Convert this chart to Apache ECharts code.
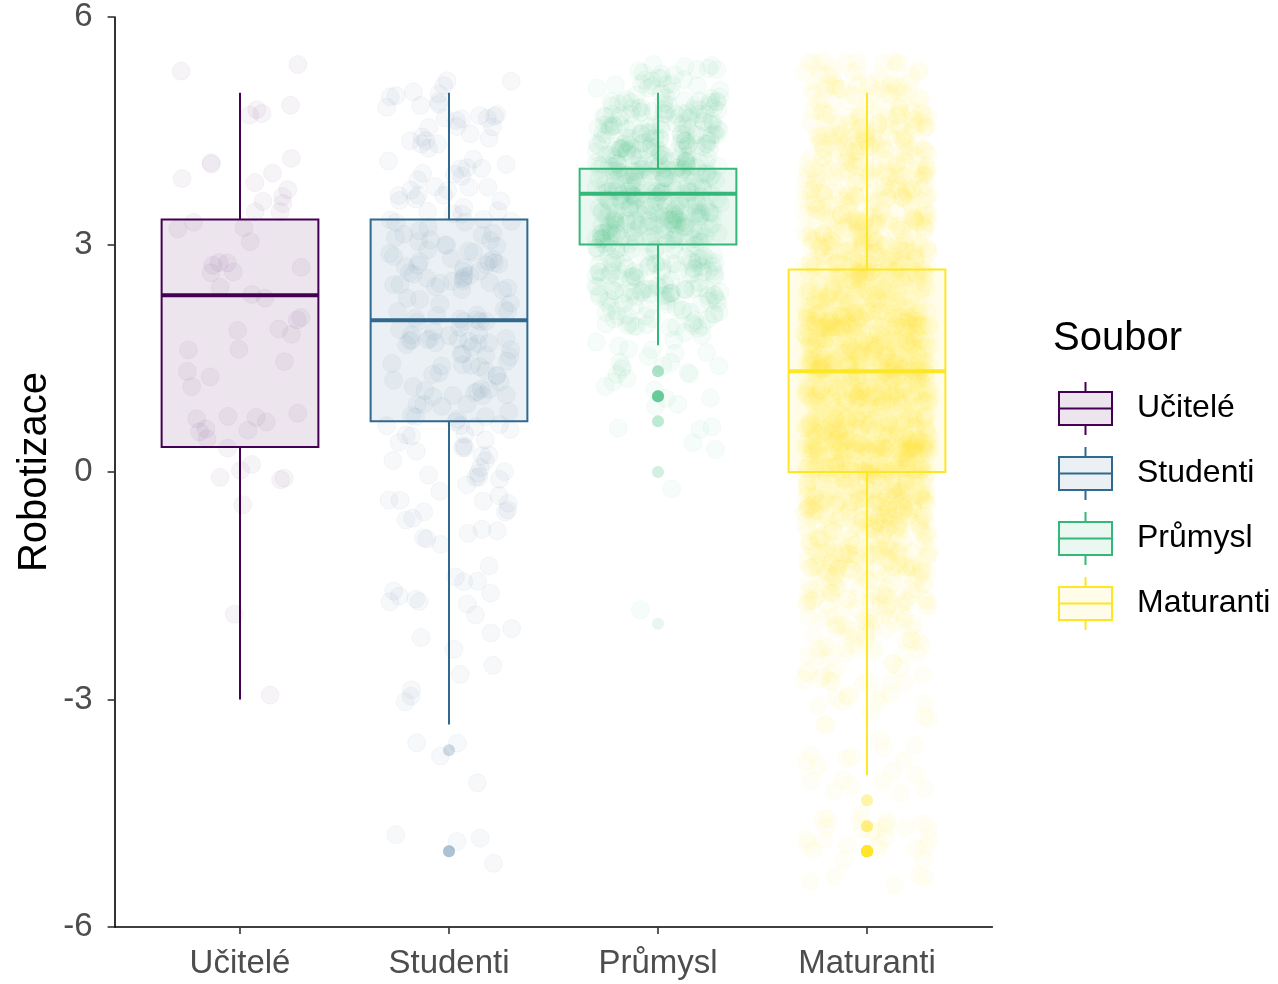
<!DOCTYPE html>
<html>
<head>
<meta charset="utf-8">
<title>Robotizace podle souboru</title>
<script src="https://cdn.jsdelivr.net/npm/echarts@6/dist/echarts.min.js"></script>
<style>
  html, body { margin: 0; padding: 0; background: #ffffff; }
  #chart { width: 1278px; height: 984px; }
</style>
</head>
<body>
<div id="chart"></div>
<script>
// Groups shown on the x axis and in the legend
const categories = ['Učitelé', 'Studenti', 'Průmysl', 'Maturanti'];
const groupColors = ['#440154', '#31688E', '#35B779', '#FDE725'];

// Response levels of the Robotizace score
const levels = [-5, -4.67, -4.33, -4, -3.67, -3.33, -3, -2.67, -2.33, -2, -1.67, -1.33, -1, -0.67, -0.33,
                0, 0.33, 0.67, 1, 1.33, 1.67, 2, 2.33, 2.67, 3, 3.33, 3.67, 4, 4.33, 4.67, 5];

// Number of respondents at each level, per group (same order as levels)
const countsUcitele   = [0, 0, 0, 0, 0, 0, 1, 0, 0, 0, 1, 0, 0, 0, 1, 6, 5, 3, 3, 2, 3, 3, 4, 4, 4, 5, 4, 4, 2, 2, 3];
const countsStudenti  = [4, 0, 0, 0, 2, 2, 1, 2, 3, 4, 4, 5, 5, 6, 7, 10, 10, 12, 15, 15, 16, 17, 16, 15, 15, 14, 11, 10, 9, 9, 10];
const countsPrumysl   = [0, 0, 0, 0, 0, 0, 0, 0, 0, 1, 0, 0, 0, 0, 0, 2, 0, 3, 10, 4, 12, 30, 40, 50, 60, 70, 75, 70, 55, 50, 55];
const countsMaturanti = [25, 6, 4, 5, 6, 8, 10, 14, 20, 35, 45, 60, 80, 100, 120, 160, 150, 150, 150, 150, 140, 130, 125, 115, 95, 85, 80, 70, 60, 55, 70];
const groupCounts = [countsUcitele, countsStudenti, countsPrumysl, countsMaturanti];

// Box statistics per group: lower whisker, Q1, median, Q3, upper whisker
const boxLow    = [-3, -3.33, 1.67, -4];
const boxQ1     = [0.33, 0.67, 3, 0];
const boxMedian = [2.33, 2, 3.67, 1.33];
const boxQ3     = [3.33, 3.33, 4, 2.67];
const boxHigh   = [5, 5, 5, 5];

// Axis ticks
const yTicks = [-6, -3, 0, 3, 6];
const xTicks = [1, 2, 3, 4];

const FONT = '"Liberation Sans", Arial, Helvetica, sans-serif';
const BOX_HALF = 0.375;      // half box width, in category units
const JITTER_W = 0.3;        // horizontal jitter, in category units
const JITTER_H = 0.45;       // vertical jitter, in score units
const POINT_ALPHA = 0.055;
const OUTLIER_ALPHA = 0.15;

function rgba(hex, a) {
  const n = parseInt(hex.slice(1), 16);
  return 'rgba(' + ((n >> 16) & 255) + ',' + ((n >> 8) & 255) + ',' + (n & 255) + ',' + a + ')';
}

// Deterministic scatter offset in [0, 1) used for the jitter layer
function spread(n) {
  const s = Math.sin(n * 12.9898 + 78.233) * 43758.5453;
  return s - Math.floor(s);
}

function jitterPoints(g) {
  const pts = [];
  let idx = 0;
  groupCounts[g].forEach(function (c, k) {
    for (let j = 0; j < c; j++) {
      const seed = g * 100003 + idx * 2;
      pts.push([
        g + 1 + JITTER_W * (2 * spread(seed + 1) - 1),
        levels[k] + JITTER_H * (2 * spread(seed + 2) - 1)
      ]);
      idx++;
    }
  });
  return pts;
}

function outlierPoints(g) {
  const pts = [];
  groupCounts[g].forEach(function (c, k) {
    const v = levels[k];
    if (v < boxLow[g] - 1e-6 || v > boxHigh[g] + 1e-6) {
      for (let j = 0; j < c; j++) pts.push([g + 1, v]);
    }
  });
  return pts;
}

function boxRenderer(color) {
  return function (params, api) {
    const x = api.value(0);
    const pLo = api.coord([x, api.value(1)]);
    const pQ1 = api.coord([x - BOX_HALF, api.value(2)]);
    const pMedL = api.coord([x - BOX_HALF, api.value(3)]);
    const pMedR = api.coord([x + BOX_HALF, api.value(3)]);
    const pQ3 = api.coord([x + BOX_HALF, api.value(4)]);
    const pHi = api.coord([x, api.value(5)]);
    return {
      type: 'group',
      children: [
        { type: 'line', shape: { x1: pHi[0], y1: pHi[1], x2: pHi[0], y2: pQ3[1] }, style: { stroke: color, lineWidth: 2 } },
        { type: 'line', shape: { x1: pLo[0], y1: pQ1[1], x2: pLo[0], y2: pLo[1] }, style: { stroke: color, lineWidth: 2 } },
        { type: 'rect', shape: { x: pQ1[0], y: pQ3[1], width: pQ3[0] - pQ1[0], height: pQ1[1] - pQ3[1] },
          style: { fill: rgba(color, 0.1), stroke: color, lineWidth: 2 } },
        { type: 'line', shape: { x1: pMedL[0], y1: pMedL[1], x2: pMedR[0], y2: pMedR[1] }, style: { stroke: color, lineWidth: 4 } }
      ]
    };
  };
}

const series = [];
categories.forEach(function (name, g) {
  series.push({
    name: name + ' – body',
    type: 'scatter',
    data: jitterPoints(g),
    symbol: 'circle',
    symbolSize: 18,
    itemStyle: { color: rgba(groupColors[g], POINT_ALPHA), borderColor: rgba(groupColors[g], POINT_ALPHA), borderWidth: 1 },
    silent: true,
    progressive: 0,
    large: false,
    z: 1
  });
});
categories.forEach(function (name, g) {
  series.push({
    name: name,
    type: 'custom',
    renderItem: boxRenderer(groupColors[g]),
    data: [[g + 1, boxLow[g], boxQ1[g], boxMedian[g], boxQ3[g], boxHigh[g]]],
    encode: { x: 0, y: [1, 2, 3, 4, 5] },
    itemStyle: { color: rgba(groupColors[g], 0.1), borderColor: groupColors[g], borderWidth: 2 },
    silent: true,
    z: 3
  });
  series.push({
    name: name + ' – odlehlé',
    type: 'scatter',
    data: outlierPoints(g),
    symbol: 'circle',
    symbolSize: 12,
    itemStyle: { color: rgba(groupColors[g], OUTLIER_ALPHA) },
    silent: true,
    z: 4
  });
});

const BOX_ICON = 'path://M26.5,0L26.5,10M0,10L53,10L53,43L0,43ZM0,26.5L53,26.5M26.5,43L26.5,53';

const chart = echarts.init(document.getElementById('chart'), null, { renderer: 'canvas' });
chart.setOption({
  animation: false,
  backgroundColor: '#ffffff',
  textStyle: { fontFamily: FONT },
  title: {
    text: 'Soubor',
    left: 1053,
    top: 319,
    padding: 0,
    textStyle: { fontFamily: FONT, fontSize: 40, fontWeight: 'normal', color: '#000000' }
  },
  legend: {
    orient: 'vertical',
    left: 1058,
    top: 381,
    padding: 0,
    itemWidth: 53,
    itemHeight: 53,
    itemGap: 10,
    selectedMode: false,
    textStyle: { fontFamily: FONT, fontSize: 32, color: '#000000', padding: [4, 0, 0, 20] },
    data: categories.map(function (name, g) {
      return {
        name: name,
        icon: BOX_ICON,
        itemStyle: { color: rgba(groupColors[g], 0.1), borderColor: groupColors[g], borderWidth: 2 }
      };
    })
  },
  grid: { left: 114.6, right: 285.6, top: 17, bottom: 57, containLabel: false, outerBoundsMode: 'none' },
  xAxis: {
    type: 'value',
    min: 0.4,
    max: 4.6,
    splitLine: { show: false },
    axisLine: { show: true, onZero: false, lineStyle: { color: '#000000', width: 1.6 } },
    axisTick: { show: true, length: 7, customValues: xTicks, lineStyle: { color: '#333333', width: 1.6 } },
    axisLabel: {
      customValues: xTicks,
      margin: 20,
      fontFamily: FONT,
      fontSize: 33,
      color: '#4D4D4D',
      formatter: function (v) { return categories[Math.round(v) - 1]; }
    }
  },
  yAxis: {
    type: 'value',
    min: yTicks[0],
    max: yTicks[yTicks.length - 1],
    interval: 3,
    name: 'Robotizace',
    nameLocation: 'middle',
    nameGap: 60,
    nameMoveOverlap: false,
    nameTextStyle: { fontFamily: FONT, fontSize: 40, color: '#000000' },
    splitLine: { show: false },
    axisLine: { show: true, onZero: false, lineStyle: { color: '#000000', width: 1.6 } },
    axisTick: { show: true, length: 7, lineStyle: { color: '#333333', width: 1.6 } },
    axisLabel: { margin: 22, fontFamily: FONT, fontSize: 33, color: '#4D4D4D' }
  },
  series: series
});
</script>
</body>
</html>
